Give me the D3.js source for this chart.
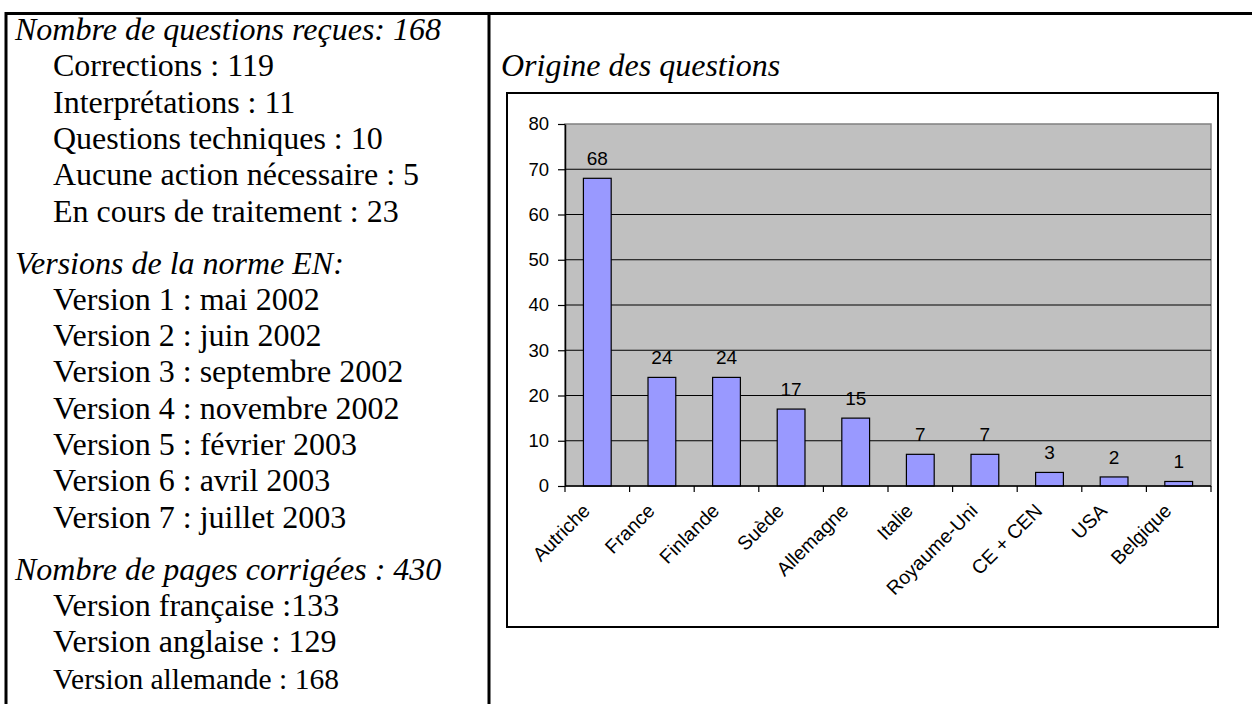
<!DOCTYPE html>
<html>
<head>
<meta charset="utf-8">
<script src="https://cdn.jsdelivr.net/npm/d3@7"></script>
<style>
  body { margin: 0; background: #fff; }
  svg { display: block; }
</style>
</head>
<body>
<svg width="1252" height="704"></svg>
<script>
// chart data
const categories = ["Autriche", "France", "Finlande", "Suède", "Allemagne", "Italie", "Royaume-Uni", "CE + CEN", "USA", "Belgique"]
const counts = [68, 24, 24, 17, 15, 7, 7, 3, 2, 1]
const yTicks = [0, 10, 20, 30, 40, 50, 60, 70, 80]
const chartTitle = "Origine des questions"

// left column texts
const questionsHeader = "Nombre de questions reçues: 168"
const questionsItems = ["Corrections : 119", "Interprétations : 11", "Questions techniques : 10",
  "Aucune action nécessaire : 5", "En cours de traitement : 23"]
const versionsHeader = "Versions de la norme EN:"
const versionsItems = ["Version 1 : mai 2002", "Version 2 : juin 2002", "Version 3 : septembre 2002",
  "Version 4 : novembre 2002", "Version 5 : février 2003", "Version 6 : avril 2003", "Version 7 : juillet 2003"]
const pagesHeader = "Nombre de pages corrigées : 430"
const pagesItems = ["Version française :133", "Version anglaise : 129", "Version allemande : 168"]

const svg = d3.select("svg")
const serif = "'Liberation Serif', 'Times New Roman', serif"
const sans = "'Liberation Sans', Arial, sans-serif"

// table borders
svg.append("line").attr("x1", 5).attr("x2", 1252).attr("y1", 13.5).attr("y2", 13.5)
  .attr("stroke", "#000").attr("stroke-width", 3)
svg.append("line").attr("x1", 6).attr("x2", 6).attr("y1", 12).attr("y2", 704)
  .attr("stroke", "#000").attr("stroke-width", 3)
svg.append("line").attr("x1", 489).attr("x2", 489).attr("y1", 12).attr("y2", 704)
  .attr("stroke", "#000").attr("stroke-width", 3)

// left column
const lineH = 36.3
const gapH = 52
let lines = []
let yy = 40
function addBlock(header, items, first) {
  if (!first) yy += gapH - lineH
  lines.push({ t: header, head: true, y: yy })
  items.forEach(function (d) {
    yy += lineH
    lines.push({ t: d, head: false, y: yy })
  })
  yy += lineH
}
addBlock(questionsHeader, questionsItems, true)
addBlock(versionsHeader, versionsItems, false)
addBlock(pagesHeader, pagesItems, false)

svg.append("g").selectAll("text")
  .data(lines)
  .enter()
  .append("text")
  .attr("x", function (d) { return d.head ? 15 : 53 })
  .attr("y", function (d) { return d.y })
  .style("font-family", serif)
  .style("font-size", function (d) { return d.t == "Version allemande : 168" ? "29.5px" : "32px" })
  .style("font-style", function (d) { return d.head ? "italic" : "normal" })
  .attr("fill", "#000")
  .text(function (d) { return d.t })

// chart title
svg.append("text")
  .attr("x", 501)
  .attr("y", 76)
  .style("font-family", serif)
  .style("font-size", "32px")
  .style("font-style", "italic")
  .text(chartTitle)

// chart frame
svg.append("rect")
  .attr("x", 507).attr("y", 93).attr("width", 711).attr("height", 534)
  .attr("fill", "#fff").attr("stroke", "#000").attr("stroke-width", 2)

const plotL = 565, plotR = 1211, plotT = 124, plotB = 486

const x = d3.scaleBand()
  .domain(categories)
  .range([plotL, plotR])
  .paddingInner(0.57)
  .paddingOuter(0.285)

const y = d3.scaleLinear()
  .domain([0, 80])
  .range([plotB, plotT])

// plot area
svg.append("rect")
  .attr("x", plotL).attr("y", plotT)
  .attr("width", plotR - plotL).attr("height", plotB - plotT)
  .attr("fill", "#c0c0c0").attr("stroke", "#808080").attr("stroke-width", 1.5)

svg.append("g").selectAll("line")
  .data(yTicks.filter(function (d) { return d > 0 && d < 80 }))
  .enter()
  .append("line")
  .attr("x1", plotL).attr("x2", plotR)
  .attr("y1", function (d) { return y(d) }).attr("y2", function (d) { return y(d) })
  .attr("stroke", "#000").attr("stroke-width", 1.2)

// bars
svg.append("g").selectAll("rect")
  .data(counts)
  .enter()
  .append("rect")
  .attr("x", function (d, i) { return x(categories[i]) })
  .attr("y", function (d) { return y(d) })
  .attr("width", x.bandwidth())
  .attr("height", function (d) { return y(0) - y(d) })
  .attr("fill", "#9999ff")
  .attr("stroke", "#000")
  .attr("stroke-width", 1.2)

// value labels
svg.append("g").selectAll("text")
  .data(counts)
  .enter()
  .append("text")
  .attr("x", function (d, i) { return x(categories[i]) + x.bandwidth() / 2 })
  .attr("y", function (d) { return y(d) - 13 })
  .style("font-family", sans)
  .style("font-size", "19px")
  .style("text-anchor", "middle")
  .text(function (d) { return d })

// y axis
const yAxis = svg.append("g")
  .attr("transform", "translate(" + plotL + ",0)")
  .call(d3.axisLeft(y).tickValues(yTicks).tickSize(7).tickPadding(9).tickSizeOuter(0))
yAxis.select(".domain").attr("stroke", "#000").attr("stroke-width", 1.5)
yAxis.selectAll(".tick line").attr("stroke", "#000").attr("stroke-width", 1.2)
yAxis.selectAll(".tick text")
  .style("font-family", sans)
  .style("font-size", "18.5px")
  .attr("fill", "#000")

// x axis with ticks between categories
const half = (x.step() - x.bandwidth()) / 2
const xTickPos = categories.map(function (c) { return x(c) - half }).concat([plotR])
svg.append("line")
  .attr("x1", plotL).attr("x2", plotR).attr("y1", plotB).attr("y2", plotB)
  .attr("stroke", "#000").attr("stroke-width", 1.5)
svg.append("g").selectAll("line")
  .data(xTickPos)
  .enter()
  .append("line")
  .attr("x1", function (d) { return d }).attr("x2", function (d) { return d })
  .attr("y1", plotB).attr("y2", plotB + 6)
  .attr("stroke", "#000").attr("stroke-width", 1.2)

svg.append("g").selectAll("text")
  .data(categories)
  .enter()
  .append("text")
  .attr("transform", function (d) {
    const cx = x(d) + x.bandwidth() / 2 - 6
    return "translate(" + cx + "," + (plotB + 26) + ") rotate(-45)"
  })
  .style("font-family", sans)
  .style("font-size", "19.5px")
  .style("text-anchor", "end")
  .text(function (d) { return d })
</script>
</body>
</html>
